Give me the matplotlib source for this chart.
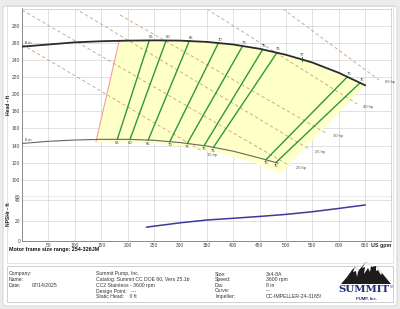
import matplotlib
matplotlib.use("Agg")
import matplotlib.pyplot as plt
from matplotlib.patches import Rectangle, Polygon, FancyBboxPatch

plt.rcParams['font.family'] = ['Liberation Sans', 'DejaVu Sans']

# impeller curves (US gpm, ft)
dia_max_q = [0, 50, 100, 150, 200, 250, 300, 350, 400, 450, 500, 550, 600, 650]
dia_max_h = [255.5, 258, 260.5, 261.8, 262.5, 262.8, 262.5, 261, 258, 253, 246, 237, 225, 210.5]
dia_min_q = [0, 50, 100, 150, 200, 250, 300, 350, 400, 450, 485]
dia_min_h = [142.5, 145, 146.5, 147.3, 147.3, 146.2, 143.5, 139.5, 133.5, 125.5, 119.5]
dia_labels = ["8 in", "6 in"]

# preferred operating region
region_q = [184, 200, 250, 300, 350, 400, 450, 500, 550, 600, 650, 490, 450, 400, 350, 300, 250, 200, 140]
region_h = [262.4, 262.5, 262.8, 262.5, 261, 258, 253, 246, 237, 225, 210.5, 108, 118, 127, 134, 139.5, 142.5, 144, 144]
minflow_q = [184, 140]
minflow_h = [262.4, 144.5]

# iso-efficiency lines
eff_labels = ["56", "60", "65", "70", "73", "75", "76", "76", "75"]
eff_top_q = [241, 273, 317, 372, 418, 456, 483, 616.5, 640.6]
eff_top_h = [262.7, 262.7, 262.2, 259.7, 256.3, 252.2, 248.4, 220.2, 213.3]
eff_bot_q = [180.5, 204.5, 239, 280, 313, 345, 362.5, 462, 481]
eff_bot_h = [147.3, 147.2, 146.4, 144.6, 142.5, 139.9, 137.8, 123.4, 120.2]
bep_q, bep_h, bep_label = 531, 240.4, "77"

# constant power lines
hp_labels = ["60 hp", "40 hp", "30 hp", "25 hp", "20 hp", "15 hp"]
hp_q = [[494.6, 676.5], [350, 634.9], [185.6, 576], [100.3, 543.9], [0, 507.8], [0, 341]]
hp_h = [[299.4, 216.6], [299.4, 188.6], [292.4, 154.7], [300, 136], [298.2, 116.2], [258, 133.7]]
hp_label_q = [688, 646, 589, 555, 519, 350]
hp_label_h = [214.6, 184.7, 151, 133, 113.5, 129.5]

# NPSHr
npsh_q = [236, 250, 300, 350, 400, 450, 500, 550, 600, 650]
npsh_h = [13.5, 14.5, 17.8, 20.5, 22.2, 24, 26, 28.6, 31.8, 35.2]

x_ticks = [50, 100, 150, 200, 250, 300, 350, 400, 450, 500, 550, 600, 650]

fig = plt.figure(figsize=(4, 3.09), dpi=100)
fig.patch.set_facecolor('#ececec')
W, H = 400.0, 309.0

def fx(px):
    return px / W

def fy(py):
    return 1 - py / H

# white page panel and frames
fig.patches.append(FancyBboxPatch((fx(3), fy(306)), fx(394), 300 / H, boxstyle="round,pad=0,rounding_size=0.01",
                                  transform=fig.transFigure, facecolor='white', edgecolor='#d0d0d0', lw=0.6, zorder=-10))
fig.patches.append(Rectangle((fx(7), fy(263)), fx(386), 257 / H, transform=fig.transFigure,
                             facecolor='none', edgecolor='#d8d8d8', lw=0.5, zorder=-5))
fig.patches.append(Rectangle((fx(7), fy(302)), fx(386), 36 / H, transform=fig.transFigure,
                             facecolor='none', edgecolor='#c8c8c8', lw=0.6, zorder=-5))

grid_c = '#d4d4d4'
tick_fs = 3.5

ax = fig.add_axes([fx(22.1), fy(197), fx(391.4 - 22.1), (197 - 8.5) / H])
ax2 = fig.add_axes([fx(22.1), fy(241), fx(391.4 - 22.1), (241 - 197) / H])

for a in (ax, ax2):
    a.set_xlim(0, 700)
    a.set_xticks(x_ticks + [700])
    a.grid(True, color=grid_c, lw=0.5)
    a.set_axisbelow(True)
    a.tick_params(length=0, labelsize=tick_fs, colors='#444', pad=1.5)
    for s in a.spines.values():
        s.set_color('#cfcfcf')
        s.set_linewidth(0.6)
    a.spines['left'].set_color('#777')

ax.set_ylim(80, 300)
ax.set_yticks(list(range(80, 300, 20)) + [300])
ax.set_yticklabels([str(v) for v in range(80, 300, 20)] + [''])
ax.set_xticklabels([])
ax.spines['bottom'].set_color('#666')
ax.spines['bottom'].set_linewidth(0.9)
ax.set_ylabel("Head - ft", fontsize=3.6, fontweight='bold', color='#222')
ax.yaxis.set_label_coords(-0.030, 0.49)

ax2.set_ylim(0, 43)
ax2.set_yticks([0, 20, 40])
ax2.set_xticklabels([str(v) for v in x_ticks] + [''])
ax2.spines['bottom'].set_color('#777')
ax2.spines['top'].set_visible(False)
ax2.set_ylabel("NPSHr - ft", fontsize=3.6, fontweight='bold', color='#222')
ax2.yaxis.set_label_coords(-0.030, 0.62)
ax2.text(700, -1.5, "US gpm", fontsize=3.8, fontweight='bold', ha='right', va='top', color='#222', clip_on=False)

# region and curves
ax.fill(region_q, region_h, color='#ffffc8', lw=0, zorder=1)
ax.plot(minflow_q, minflow_h, color='#f4a0a0', lw=0.8, zorder=2)

for q, h in zip(hp_q, hp_h):
    ax.plot(q, h, color='#c8a07a', lw=0.6, ls=(0, (4, 3)), zorder=2)
for lab, q, h in zip(hp_labels, hp_label_q, hp_label_h):
    ax.text(q, h, lab, fontsize=3.0, color='#555', ha='left', va='center', zorder=4)

for tq, th, bq, bh, lab in zip(eff_top_q, eff_top_h, eff_bot_q, eff_bot_h, eff_labels):
    ax.plot([tq, bq], [th, bh], color='#2a9a3a', lw=1.0, zorder=3)
    ax.text(tq + 3, th + 1.5, lab, fontsize=3.0, ha='center', va='bottom', color='#333', zorder=4)
    ax.text(bq, bh - 1.8, lab, fontsize=3.0, ha='center', va='top', color='#333', zorder=4)
ax.plot([bep_q, bep_q], [bep_h + 2.5, bep_h - 1.5], color='#2a9a3a', lw=0.8, zorder=3)
ax.text(bep_q, bep_h + 3, bep_label, fontsize=3.0, ha='center', va='bottom', color='#333', zorder=4)

ax.plot(dia_max_q, dia_max_h, color='#2b2b2b', lw=1.3, zorder=3)
ax.plot(dia_min_q, dia_min_h, color='#666666', lw=0.8, zorder=3)
ax.text(6, dia_max_h[0] + 1.5, dia_labels[0], fontsize=3.0, va='bottom', color='#333')
ax.text(6, dia_min_h[0] + 1.5, dia_labels[1], fontsize=3.0, va='bottom', color='#333')

ax2.plot(npsh_q, npsh_h, color='#3a3a9a', lw=1.1, zorder=3)

# footer
fig.text(fx(9), fy(250), "Motor frame size range: 254-326JM", fontsize=3.9, fontweight='bold', va='center', color='#111')

info_fs = 3.7
rows_y = [274, 279.7, 285.3, 291, 296.7]
col1 = ["Company:", "Name:", "Date:"]
for yy, t in zip(rows_y, col1):
    fig.text(fx(9), fy(yy), t, fontsize=info_fs, va='center', color='#333')
fig.text(fx(32), fy(rows_y[2]), "07/14/2025", fontsize=info_fs, va='center', color='#333')

col2 = ["Summit Pump, Inc.", "Catalog: Summit CC DOE 60, Vers 25.1b", "CC2 Stainless - 3600 rpm",
        "Design Point:   ---", "Static Head:    0 ft"]
for yy, t in zip(rows_y, col2):
    fig.text(fx(96), fy(yy), t, fontsize=info_fs, va='center', color='#333')

col3 = ["Size:", "Speed:", "Dia:", "Curve:", "Impeller:"]
col3v = ["3x4-8A", "3600 rpm", "8 in", "---", "CC-IMPELLER-24-3165!"]
for yy, t, v in zip(rows_y, col3, col3v):
    fig.text(fx(215), fy(yy), t, fontsize=info_fs, va='center', color='#333')
    fig.text(fx(266), fy(yy), v, fontsize=info_fs, va='center', color='#333')

# logo (drawn in page pixel units)
lg = fig.add_axes([fx(336), fy(304), fx(60), 46 / H])
lg.set_xlim(336, 396)
lg.set_ylim(304, 258)
lg.axis('off')
lg.add_patch(Polygon([(341, 284), (347, 277), (352, 270), (355, 267), (359, 270), (366, 262), (372, 267),
                      (376, 266), (382, 273), (391, 284)], closed=True, facecolor='#1c1c1c', edgecolor='none'))
lg.add_patch(Polygon([(355, 267), (353, 272), (356, 271), (357, 277), (358, 272), (359, 270)],
                     closed=True, facecolor='white', edgecolor='none'))
lg.add_patch(Polygon([(366, 262), (362, 268), (365, 267), (364, 274), (368, 268), (370, 272), (371, 266)],
                     closed=True, facecolor='white', edgecolor='none'))
lg.add_patch(Polygon([(376, 266), (376, 271), (378, 270), (381, 275), (382, 273)],
                     closed=True, facecolor='white', edgecolor='none'))
lg.text(364, 289, "SUMMIT", fontsize=7.4, fontweight='bold', family='DejaVu Serif', color='#1f2f7a',
        ha='center', va='center')
lg.text(389.5, 287.5, "TM", fontsize=1.8, color='#1f2f7a', ha='left', va='center')
lg.text(367, 298, "PUMP, Inc.", fontsize=3.1, fontweight='bold', color='#1f2f7a', ha='center', va='center')

fig.savefig("out.png", dpi=100, facecolor=fig.get_facecolor())
